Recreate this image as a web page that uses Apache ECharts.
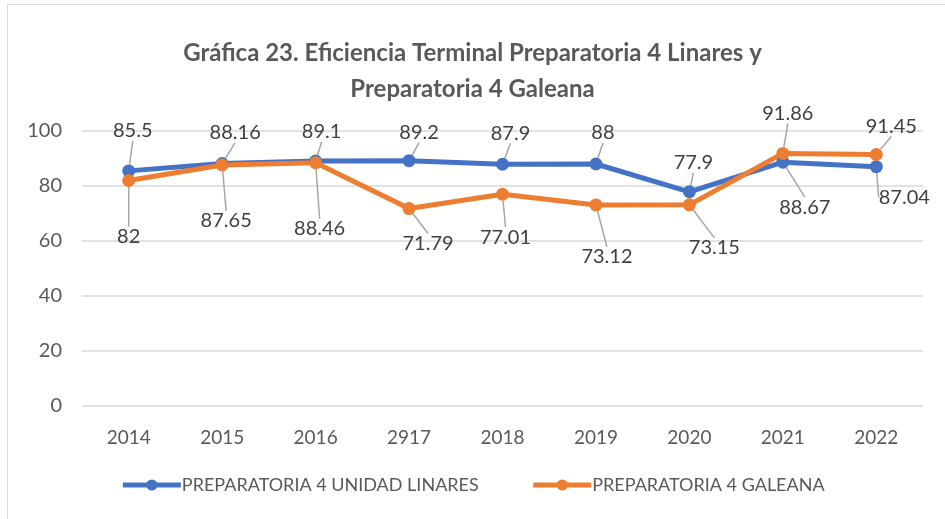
<!DOCTYPE html>
<html>
<head>
<meta charset="utf-8">
<script src="https://cdn.jsdelivr.net/npm/echarts@6/dist/echarts.min.js"></script>
<style>
  html, body { margin: 0; padding: 0; background: #fff; }
  #chart { width: 945px; height: 519px; }
</style>
</head>
<body>
<div id="chart"></div>
<script>
var years = ["2014", "2015", "2016", "2917", "2018", "2019", "2020", "2021", "2022"];
var linares = [85.5, 88.16, 89.1, 89.2, 87.9, 88, 77.9, 88.67, 87.04];
var galeana = [82, 87.65, 88.46, 71.79, 77.01, 73.12, 73.15, 91.86, 91.45];
var yTicks = [0, 20, 40, 60, 80, 100];

// label shifts (px) from each point
var linaresShift = [[4, -40], [13, -31], [6, -29], [10, -28], [8, -31], [7, -31], [4, -29], [22, 45], [28, 31]];
var galeanaShift = [[0, 56], [4, 56], [4, 66], [19, 35], [3, 43], [11, 52], [25, 43], [5, -40], [15, -28]];

var chart = echarts.init(document.getElementById("chart"));

function lineSeries(name, data, color, shift) {
    return {
        name: name,
        type: "line",
        data: data,
        symbol: "circle",
        symbolSize: 13,
        lineStyle: { width: 5, color: color },
        itemStyle: { color: color },
        label: {
            show: true,
            position: "inside",
            fontFamily: "Lato",
            fontSize: 20,
            color: "#404040"
        },
        labelLine: { show: true, lineStyle: { color: "#a6a6a6", width: 1.5 } },
        labelLayout: function (params) {
            var s = shift[params.dataIndex];
            return { dx: s[0], dy: s[1] };
        },
        emphasis: { disabled: true }
    };
}

chart.setOption({
    animation: false,
    textStyle: { fontFamily: "Lato" },
    title: {
        text: "Gráfica 23. Eficiencia Terminal Preparatoria 4 Linares y\nPreparatoria 4 Galeana",
        left: "center",
        top: 30,
        textStyle: { fontFamily: "Lato", fontWeight: "bold", fontSize: 24, color: "#595959", lineHeight: 36 }
    },
    graphic: [{
        type: "rect",
        shape: { x: 7.5, y: 4.5, width: 960, height: 530 },
        style: { fill: "none", stroke: "#d9d9d9", lineWidth: 1 },
        silent: true
    }],
    legend: {
        bottom: 20,
        left: "center",
        itemWidth: 58,
        itemHeight: 14,
        itemGap: 52,
        lineStyle: { width: 5 },
        textStyle: { fontFamily: "Lato", fontSize: 18, color: "#595959", padding: [0, 0, 0, -4] },
        data: ["PREPARATORIA 4 UNIDAD LINARES", "PREPARATORIA 4 GALEANA"]
    },
    grid: { left: 82, right: 22, top: 131, bottom: 113 },
    xAxis: {
        type: "category",
        data: years,
        axisLine: { show: false },
        axisTick: { show: false },
        axisLabel: { fontFamily: "Lato", fontSize: 19, color: "#595959", margin: 22 }
    },
    yAxis: {
        type: "value",
        min: yTicks[0],
        max: yTicks[yTicks.length - 1],
        interval: 20,
        axisLine: { show: false },
        axisTick: { show: false },
        splitLine: { lineStyle: { color: "#d9d9d9", width: 1.5 } },
        axisLabel: { fontFamily: "Lato", fontSize: 20, color: "#595959", margin: 20 }
    },
    series: [
        lineSeries("PREPARATORIA 4 UNIDAD LINARES", linares, "#4472c4", linaresShift),
        lineSeries("PREPARATORIA 4 GALEANA", galeana, "#ed7d31", galeanaShift)
    ]
});
</script>
</body>
</html>
